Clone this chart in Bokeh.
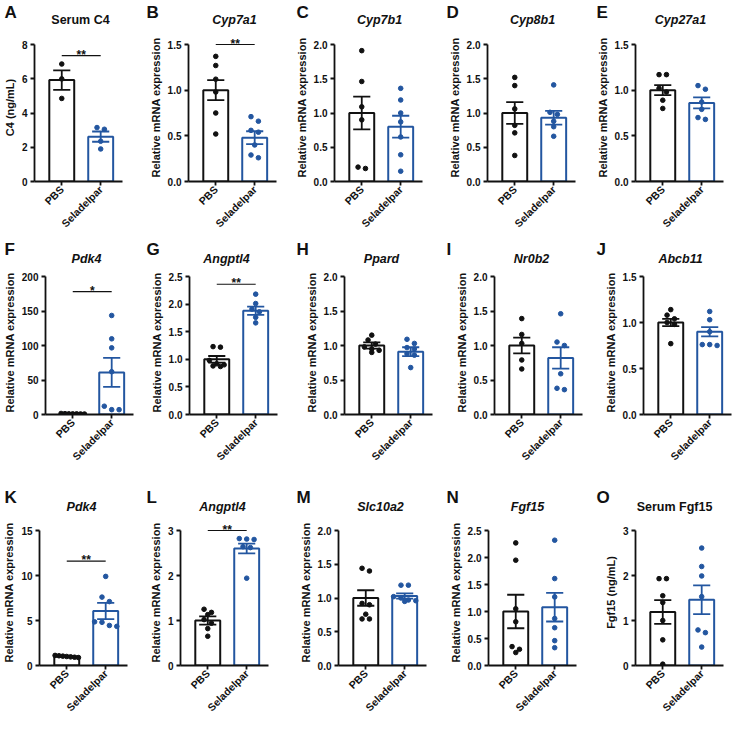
import math
from bokeh.plotting import figure
from bokeh.layouts import row, column
from bokeh.models import Range1d, FixedTicker, NumeralTickFormatter
from bokeh.core.properties import value
from bokeh.embed import file_html
from bokeh.resources import INLINE

# ---------------- data ----------------
groups = ["PBS", "Seladelpar"]
letters = ["A", "B", "C", "D", "E", "F", "G", "H", "I", "J", "K", "L", "M", "N", "O"]
titles = ["Serum C4", "Cyp7a1", "Cyp7b1", "Cyp8b1", "Cyp27a1",
          "Pdk4", "Angptl4", "Ppard", "Nr0b2", "Abcb11",
          "Pdk4", "Angptl4", "Slc10a2", "Fgf15", "Serum Fgf15"]
title_italic = [False, True, True, True, True,
                True, True, True, True, True,
                True, True, True, True, False]
ylabels = ["C4 (ng/mL)"] + ["Relative mRNA expression"] * 13 + ["Fgf15 (ng/mL)"]
ymax = [8, 1.5, 2.0, 2.0, 1.5, 200, 2.5, 2.0, 2.0, 1.5, 15, 3, 2.0, 2.5, 3]
ystep = [2, 0.5, 0.5, 0.5, 0.5, 50, 0.5, 0.5, 0.5, 0.5, 5, 1, 0.5, 0.5, 1]

pbs_mean = [5.92, 1.00, 1.00, 1.00, 1.00, 1.0, 1.00, 1.00, 1.00, 1.00, 1.00, 1.00, 1.00, 1.00, 1.19]
pbs_sem = [0.57, 0.11, 0.24, 0.16, 0.055, 0.08, 0.06, 0.045, 0.115, 0.04, 0.04, 0.09, 0.115, 0.31, 0.265]
sel_mean = [2.62, 0.48, 0.80, 0.93, 0.86, 61.0, 1.88, 0.91, 0.82, 0.90, 6.05, 2.60, 1.03, 1.08, 1.46]
sel_sem = [0.30, 0.07, 0.16, 0.10, 0.06, 21.0, 0.075, 0.065, 0.155, 0.05, 0.90, 0.11, 0.04, 0.265, 0.32]

pbs_points = [
    [6.86, 5.99, 4.85],
    [1.37, 1.27, 1.12, 0.98, 0.75, 0.52],
    [1.91, 1.46, 1.09, 0.90, 0.21, 0.19],
    [1.52, 1.40, 1.06, 0.82, 0.71, 0.38],
    [1.17, 1.17, 1.02, 0.98, 0.89, 0.80],
    [1.5, 1.2, 1.0, 0.9, 0.8, 0.7, 0.9],
    [1.23, 1.22, 0.98, 0.92, 0.90, 0.88, 0.87],
    [1.15, 1.08, 1.02, 0.98, 0.95, 0.93, 0.90],
    [1.39, 1.16, 1.03, 0.79, 0.66],
    [1.14, 1.08, 1.04, 1.00, 0.98, 0.77],
    [1.12, 1.08, 1.04, 1.00, 0.96, 0.92, 0.88],
    [1.25, 1.18, 1.13, 1.02, 0.94, 0.82, 0.65],
    [1.44, 1.40, 0.92, 0.90, 0.76, 0.69, 0.69],
    [2.27, 1.95, 1.05, 0.81, 0.35, 0.30, 0.24],
    [1.93, 1.93, 1.55, 1.40, 1.00, 0.57, 0.03],
]
sel_points = [
    [3.15, 3.05, 2.35, 1.90],
    [0.71, 0.66, 0.56, 0.54, 0.40, 0.29, 0.26],
    [1.36, 1.19, 1.00, 0.87, 0.65, 0.39, 0.15],
    [1.41, 1.01, 0.98, 0.88, 0.80, 0.66],
    [1.05, 1.01, 0.87, 0.79, 0.70, 0.68],
    [143.5, 109.7, 96.6, 62.0, 12.0, 7.0, 7.0],
    [2.18, 2.01, 1.91, 1.86, 1.76, 1.66],
    [1.09, 1.03, 0.97, 0.95, 0.88, 0.86, 0.68],
    [1.46, 1.05, 1.00, 0.59, 0.38, 0.36],
    [1.12, 1.03, 0.90, 0.76, 0.75, 0.76],
    [9.9, 7.6, 7.1, 4.85, 4.8, 4.45, 4.35],
    [2.81, 2.82, 2.80, 2.64, 2.62, 1.94],
    [1.19, 1.19, 1.02, 1.00, 0.97, 0.96, 0.95],
    [2.32, 1.61, 1.27, 0.87, 0.70, 0.46, 0.33],
    [2.61, 2.20, 1.99, 1.53, 0.79, 0.73, 0.41],
]
sig_y = [7.35, 1.5, None, None, None, 178, 2.36, None, None, None, 11.6, 3.0, None, None, None]
sig_text = ["**", "**", "", "", "", "*", "**", "", "", "", "**", "**", "", "", ""]

# ---------------- style / layout ----------------
BLACK = "#111111"
BLUE = "#2356a0"
FONT = "Liberation Sans"
PAGE_W = 724
FW = 88
X0, X1 = -0.70, 1.56
BAR_W = 0.64
CAP_W = 0.44
row_bounds = [8, 150, 300, 450, 600, 732]
frame_lefts = [[42, 196, 341, 494, 642], [48, 188, 343, 493, 642], [43, 184, 342, 489, 636]]
header_top = [8, 248, 488]
header_h = [33, 30, 39]
ext_px = [11, 6, 11]          # frame space above the top tick
frame_h = [137, 138, 135]     # pixels for 0..ymax
bottom_border = [59, 66, 53]
letter_top = [10, 247, 495]   # page y
title_mid = [27, 266, 514]    # page y


def swarm(vals, px_per_unit, d=0.19, thr=4.6, maxw=0.6):
    order = sorted(range(len(vals)), key=lambda i: -vals[i])
    rows = []
    for i in order:
        if rows and (vals[rows[-1][0]] - vals[i]) * px_per_unit < thr:
            rows[-1].append(i)
        else:
            rows.append([i])
    offs = [0.0] * len(vals)
    for r in rows:
        n = len(r)
        step = d if n < 2 else min(d, maxw / (n - 1))
        for k, i in enumerate(r):
            offs[i] = (k - (n - 1) / 2) * step
    return offs


def make_header(r):
    h = header_h[r]
    p = figure(frame_width=PAGE_W, frame_height=h, min_border=0,
               x_range=Range1d(0, PAGE_W), y_range=Range1d(h, 0),
               x_axis_type=None, y_axis_type=None, title=None,
               output_backend="svg", toolbar_location=None)
    p.outline_line_color = None
    p.grid.visible = False
    p.background_fill_color = "white"
    p.border_fill_color = "white"
    idx = [r * 5 + c for c in range(5)]
    p.text(x=[row_bounds[c] + 4 - 8 for c in range(5)],
           y=[letter_top[r] - header_top[r]] * 5,
           text=[letters[i] for i in idx],
           text_font=value(FONT), text_font_style="bold", text_font_size="17px",
           text_align="left", text_baseline="top", text_color=BLACK)
    for c in range(5):
        i = idx[c]
        p.text(x=[frame_lefts[r][c] + FW / 2 + 2 - 8], y=[title_mid[r] - header_top[r]],
               text=[titles[i]], text_font=value(FONT),
               text_font_style="bold italic" if title_italic[i] else "bold",
               text_font_size="12.5px", text_align="center", text_baseline="middle",
               text_color=BLACK)
    return p


def make_panel(i, r, c):
    fl = frame_lefts[r][c]
    ym = ymax[i]
    ppu = frame_h[r] / ym
    bl = fl - row_bounds[c]
    p = figure(title=None, frame_width=FW, frame_height=frame_h[r] + ext_px[r],
               x_range=Range1d(X0, X1), y_range=Range1d(0, ym + ext_px[r] / ppu),
               output_backend="svg", toolbar_location=None,
               min_border_left=bl,
               min_border_right=row_bounds[c + 1] - (fl + FW),
               min_border_top=0, min_border_bottom=bottom_border[r])
    p.outline_line_color = None
    p.grid.visible = False
    p.background_fill_color = "white"
    p.border_fill_color = "white"

    nt = int(round(ym / ystep[i]))
    p.yaxis.ticker = FixedTicker(ticks=[k * ystep[i] for k in range(nt + 1)], minor_ticks=[])
    p.yaxis.formatter = NumeralTickFormatter(format="0.0" if ystep[i] < 1 else "0")
    p.yaxis.bounds = (0, ym)
    p.xaxis.ticker = FixedTicker(ticks=[0, 1], minor_ticks=[])
    p.xaxis.major_label_overrides = {0: groups[0], 1: groups[1]}
    p.xaxis.major_label_orientation = math.pi / 4
    for ax in (p.xaxis, p.yaxis):
        ax.axis_line_width = 1.8
        ax.axis_line_color = BLACK
        ax.major_tick_line_width = 1.8
        ax.major_tick_line_color = BLACK
        ax.major_tick_out = 4
        ax.major_tick_in = 0
        ax.minor_tick_line_color = None
        ax.major_label_text_font = FONT
        ax.major_label_text_font_style = "bold"
        ax.major_label_text_color = BLACK
    p.yaxis.major_label_text_font_size = "10px"
    p.xaxis.major_label_text_font_size = "10.5px"
    p.yaxis.major_label_standoff = 3
    p.xaxis.major_label_standoff = 2
    p.yaxis.axis_label = ylabels[i]
    p.yaxis.axis_label_text_font = FONT
    p.yaxis.axis_label_text_font_style = "bold"
    p.yaxis.axis_label_text_font_size = "11px"
    p.yaxis.axis_label_text_color = BLACK
    p.yaxis.axis_label_standoff = 3

    colors = [BLACK, BLUE]
    means = [pbs_mean[i], sel_mean[i]]
    sems = [pbs_sem[i], sel_sem[i]]
    pts = [pbs_points[i], sel_points[i]]

    p.vbar(x=[0, 1], top=means, width=BAR_W, fill_color="white",
           line_color=colors, line_width=2)
    for g in range(2):
        offs = swarm(pts[g], ppu)
        p.scatter(x=[g + o for o in offs], y=pts[g], size=4.6, marker="circle",
                  fill_color=colors[g], line_color=colors[g])
    for g in range(2):
        m, s = means[g], sems[g]
        p.segment(x0=[g], y0=[m - s], x1=[g], y1=[m + s], line_color=colors[g], line_width=1.8)
        p.segment(x0=[g - CAP_W / 2, g - CAP_W / 2], y0=[m - s, m + s],
                  x1=[g + CAP_W / 2, g + CAP_W / 2], y1=[m - s, m + s],
                  line_color=colors[g], line_width=1.8)

    if sig_y[i] is not None:
        p.segment(x0=[0], y0=[sig_y[i]], x1=[1], y1=[sig_y[i]], line_color=BLACK, line_width=1.2)
        p.text(x=[0.5], y=[sig_y[i] + 1.0 / ppu], text=[sig_text[i]],
               text_align="center", text_baseline="alphabetic",
               text_font=value(FONT), text_font_style="bold", text_font_size="12px",
               text_color=BLACK)
    return p


items = []
for r in range(3):
    items.append(make_header(r))
    items.append(row([make_panel(r * 5 + c, r, c) for c in range(5)], spacing=0))
layout = column(items, spacing=0)

open("out.html", "w").write(file_html(layout, INLINE))
